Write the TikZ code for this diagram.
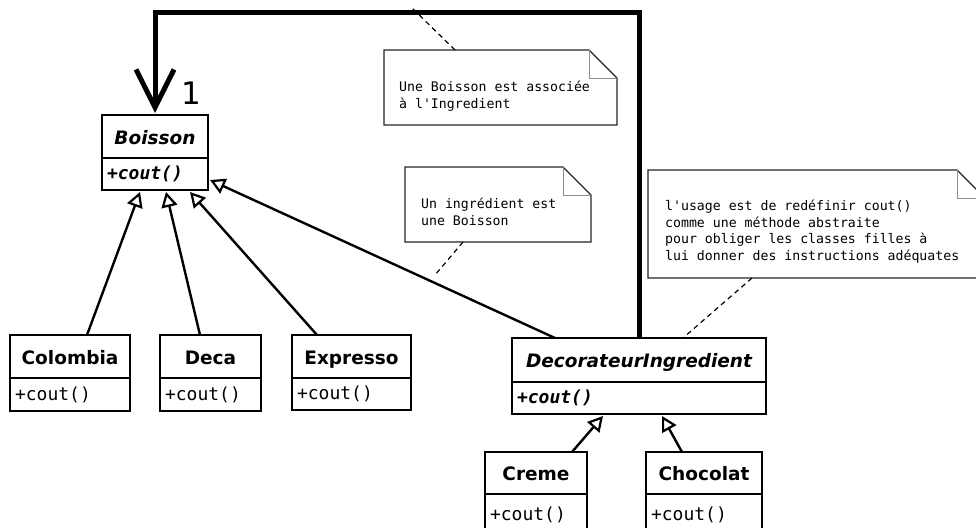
\documentclass[tikz,border=0pt]{standalone}
\usepackage{fontspec}
\setmainfont{DejaVu Sans}
\setmonofont{DejaVu Sans Mono}
\usetikzlibrary{arrows.meta,calc}

% class box: title compartment over a method compartment
% #1 name, #2 left, #3 right, #4 top, #5 divider, #6 bottom, #7 title, #8 method
\newcommand\umlclass[8]{%
  \pgfmathsetmacro\clsw{#3-#2}%
  \pgfmathsetmacro\clstw{#3-#2-10}%
  \node[clsname, minimum width=\clsw pt, minimum height={(#5-#4)*1pt}]
    (#1) at ({(#2+#3)/2},{(#4+#5)/2}) {#7};
  \node[clsmeth, anchor=north, minimum width=\clsw pt, text width=\clstw pt,
    minimum height={(#6-#5)*1pt}] (#1m) at (#1.south) {#8};
}

% note with a folded corner: #1 name, #2 left, #3 right, #4 top, #5 bottom, #6 fold
\newcommand\umlnote[6]{%
  \node[inner sep=0pt, outer sep=0pt, minimum width={(#3-#2)*1pt},
    minimum height={(#5-#4)*1pt}] (#1) at ({(#2+#3)/2},{(#4+#5)/2}) {};
  \draw[noteline] (#1.north west) -- ([xshift=-#6pt]#1.north east)
    -- ([yshift=-#6pt]#1.north east) -- (#1.south east) -- (#1.south west) -- cycle;
  \draw[foldline] ([xshift=-#6pt]#1.north east) |- ([yshift=-#6pt]#1.north east);
}

\begin{document}
\begin{tikzpicture}[x=1pt,y=-1pt,
  box/.style={draw=black, line width=2.6pt, fill=white, inner sep=0pt, outer sep=0pt},
  clsname/.style={box, font=\fontsize{18.5}{22}\selectfont\bfseries,
    text height=15pt, text depth=0pt},
  clsmeth/.style={box, inner xsep=5pt, align=left,
    font=\fontsize{18}{21}\selectfont\ttfamily, text height=13pt, text depth=2pt},
  inherit/.style={draw, line width=2.4pt,
    -{Triangle[open, length=15pt, width=16pt, line width=2.2pt, fill=white]}},
  assoc/.style={draw, line width=5pt, shorten >=2pt,
    -{Straight Barb[length=38pt, width=38pt]}},
  noteline/.style={draw=black!85, line width=1.3pt, fill=white},
  foldline/.style={draw=black!45, line width=1pt},
  notetext/.style={anchor=north west, inner sep=0pt, align=left,
    font=\fontsize{13.2}{16.6}\selectfont\ttfamily},
  dashln/.style={draw, line width=1.2pt, dash pattern=on 5pt off 4pt}
]
\useasboundingbox[fill=white] (0,0) rectangle (976,527);

% classes
\umlclass{boisson}{102}{208}{115}{158}{190}{\itshape Boisson}{\bfseries\itshape +cout()}
\umlclass{colombia}{10}{130}{335}{378}{411}{Colombia}{+cout()}
\umlclass{deca}{160}{261}{335}{378}{411}{Deca}{+cout()}
\umlclass{expresso}{292}{411}{335}{378}{410}{Expresso}{+cout()}
\umlclass{deco}{512}{766}{338}{382}{414}{\itshape DecorateurIngredient}{\bfseries\itshape +cout()}
\umlclass{creme}{485}{587}{452}{494}{536}{Creme}{+cout()}
\umlclass{chocolat}{646}{762}{452}{494}{536}{Chocolat}{+cout()}

% generalisations
\draw[inherit] ([xshift=77pt]colombia.north west) -- ([xshift=38pt,yshift=-2pt]boissonm.south west);
\draw[inherit] ([xshift=40pt]deca.north west) -- ([xshift=64pt,yshift=-2pt]boissonm.south west);
\draw[inherit] ([xshift=25pt]expresso.north west) -- ([xshift=88pt,yshift=-2pt]boissonm.south west);
\draw[inherit] ([xshift=43pt]deco.north west) -- ([xshift=2pt,yshift=-6pt]boissonm.east);
\draw[inherit] ([xshift=87pt]creme.north west) -- ([xshift=91pt,yshift=-2pt]decom.south west);
\draw[inherit] ([xshift=36pt]chocolat.north west) -- ([xshift=150pt,yshift=-2pt]decom.south west);

% association from the decorator to the beverage
\coordinate (top) at (0,13);
\draw[assoc] (deco.north) -- (deco.north |- top) -| (boisson.north);
\node[font=\fontsize{31}{36}\selectfont, inner sep=0pt] (mult) at (191,93) {1};

% notes
\umlnote{note1}{384}{617}{50}{125}{28}
\node[notetext] (note1t) at (399,80.5)
  {\rule{0pt}{11pt}Une Boisson est associée\\à l'Ingredient};
\umlnote{note2}{405}{591}{167}{242}{28}
\node[notetext] (note2t) at (421,197.5)
  {\rule{0pt}{11pt}Un ingrédient est\\une Boisson};
\umlnote{note3}{648}{985}{170}{278}{28}
\node[notetext] (note3t) at (665,199.5)
  {\rule{0pt}{11pt}l'usage est de redéfinir cout()\\comme une méthode abstraite\\pour obliger les classes filles à\\lui donner des instructions adéquates};

% note anchors
\coordinate (c1) at (412,8);
\coordinate (c2) at (435,275);
\draw[dashln] ([xshift=71pt]note1.north west) -- (c1);
\draw[dashln] ([xshift=58pt]note2.south west) -- (c2);
\draw[dashln] ([xshift=104pt]note3.south west) -- ([xshift=171pt]deco.north west);
\end{tikzpicture}
\end{document}
